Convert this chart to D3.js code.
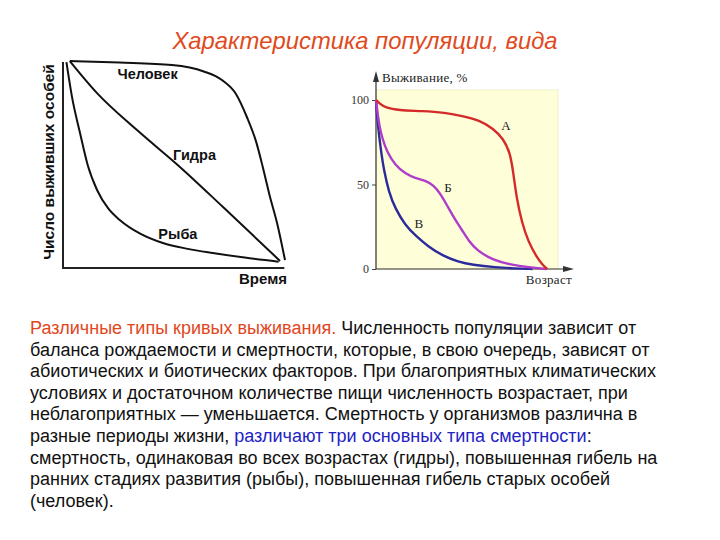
<!DOCTYPE html>
<html>
<head>
<meta charset="utf-8">
<script src="https://cdn.jsdelivr.net/npm/d3@7"></script>
<style>
  body { margin: 0; background: #fff; }
  svg { display: block; font-family: "Liberation Sans", Arial, sans-serif; }
</style>
</head>
<body>
<svg id="chart" width="720" height="540"></svg>
<script>
// ---- data: left schematic chart (time %, survivors %)
const humanCurve = [[3, 99.5], [25, 98.8], [48, 97.6], [62, 94.5], [70, 90.4], [76, 84], [81, 72.6], [85, 61], [88, 48.6], [91, 35], [94.3, 21.6], [97.8, 3.8]];
const hydraCurve = [[3, 99.5], [15, 84.1], [32.6, 66.3], [51.5, 48.6], [70.5, 29.3], [95.6, 3.4]];
const fishCurve = [[1.5, 99], [4, 82], [7.5, 64.9], [11, 49], [15, 37.5], [20, 28.5], [25, 23.1], [34, 16.5], [44, 12], [55, 9.2], [66, 7.2], [80, 5], [95, 3]];
const leftLabels = [
  { text: "Человек", x: 24, y: 91 },
  { text: "Гидра", x: 48.5, y: 52 },
  { text: "Рыба", x: 42, y: 14 }
];

// ---- data: right chart (age %, survival %)
const curveA = [[0, 100], [2, 98], [5.1, 95.4], [12.5, 93.9], [25.3, 93.5], [38.1, 92.5], [46.2, 90.8], [57.1, 88], [64.5, 83], [69.9, 77.1], [73.6, 69.2], [75.4, 57.4], [77.3, 41.6], [80.1, 27.8], [83.7, 16], [88.3, 7.1], [91.5, 2.5], [94.1, 0]];
const curveB = [[0, 100], [1, 91], [2, 84], [3.3, 78], [6, 69.2], [10.6, 61.4], [16.1, 56.4], [21.6, 53.8], [27.1, 52.3], [31.7, 49.5], [35.3, 44.6], [39, 37.7], [43, 30], [47.3, 23], [51, 16.5], [55.3, 11.1], [64.5, 5.1], [74, 2.6], [84, 1], [93.8, 0]];
const curveV = [[0, 100], [0.8, 88], [1.8, 78], [3, 68], [4.2, 59.4], [7, 45.6], [10.6, 35.7], [16.1, 25.9], [21.6, 19.9], [29, 13], [36.3, 8.1], [45.4, 4.1], [52.7, 2.5], [66, 1], [76, 0.3], [86, 0]];
const rightTicks = [0, 50, 100];
const rightLabels = [
  { text: "А", x: 71.4, y: 82.5 },
  { text: "Б", x: 39.6, y: 45.5 },
  { text: "В", x: 23.5, y: 24.5 }
];

// ---- data: text
const titleText = "Характеристика популяции, вида";
const paragraph = [
  [["Различные типы кривых выживания. ", "red"], ["Численность популяции зависит от", "black"]],
  [["баланса рождаемости и смертности, которые, в свою очередь, зависят от", "black"]],
  [["абиотических и биотических факторов. При благоприятных климатических", "black"]],
  [["условиях и достаточном количестве пищи численность возрастает, при", "black"]],
  [["неблагоприятных — уменьшается. Смертность у организмов различна в", "black"]],
  [["разные периоды жизни, ", "black"], ["различают три основных типа смертности", "blue"], [":", "black"]],
  [["смертность, одинаковая во всех возрастах (гидры), повышенная гибель на", "black"]],
  [["ранних стадиях развития (рыбы), повышенная гибель старых особей", "black"]],
  [["(человек).", "black"]]
];

const svg = d3.select('#chart');
const textColors = { red: "#e2461c", black: "#111", blue: "#2323c4" };

// title
svg.append('text')
  .attr('x', 365)
  .attr('y', 49)
  .attr('text-anchor', 'middle')
  .attr('font-size', 23.8)
  .attr('font-style', 'italic')
  .attr('fill', '#e04a1c')
  .text(titleText);

// ---------- left chart
const L = { left: 63, right: 290, top: 60, bottom: 268 };
const lx = d3.scaleLinear().domain([0, 100]).range([L.left, L.right]);
const ly = d3.scaleLinear().domain([0, 100]).range([L.bottom, L.top]);

const gL = svg.append('g').attr('class', 'left-chart');

gL.append('line')
  .attr('x1', lx(0)).attr('x2', lx(0))
  .attr('y1', ly(99)).attr('y2', ly(0))
  .attr('stroke', '#222').attr('stroke-width', 2);
gL.append('line')
  .attr('x1', lx(0) - 1).attr('x2', lx(97.5))
  .attr('y1', ly(0)).attr('y2', ly(0))
  .attr('stroke', '#222').attr('stroke-width', 2);

const lineL = d3.line()
  .x(d => lx(d[0]))
  .y(d => ly(d[1]))
  .curve(d3.curveMonotoneX);

gL.selectAll('.curve')
  .data([humanCurve, hydraCurve, fishCurve])
  .enter().append('path')
  .attr('class', 'curve')
  .attr('d', lineL)
  .attr('fill', 'none')
  .attr('stroke', '#111')
  .attr('stroke-width', 2);

gL.selectAll('.lbl')
  .data(leftLabels)
  .enter().append('text')
  .attr('class', 'lbl')
  .attr('x', d => lx(d.x))
  .attr('y', d => ly(d.y))
  .attr('font-size', 14.5)
  .attr('font-weight', 'bold')
  .attr('fill', '#111')
  .text(d => d.text);

gL.append('text')
  .attr('transform', `translate(54,${(L.top + L.bottom) / 2 - 2}) rotate(-90)`)
  .attr('text-anchor', 'middle')
  .attr('font-size', 15.5)
  .attr('font-weight', 'bold')
  .attr('fill', '#111')
  .text('Число выживших особей');

gL.append('text')
  .attr('x', 287)
  .attr('y', 284)
  .attr('text-anchor', 'end')
  .attr('font-size', 15)
  .attr('font-weight', 'bold')
  .attr('fill', '#111')
  .text('Время');

// ---------- right chart
const R = { left: 376, right: 558, top: 90, bottom: 269 };
const rx = d3.scaleLinear().domain([0, 100]).range([R.left, R.right]);
const ry = d3.scaleLinear().domain([0, 100]).range([R.bottom, 100]);

const gR = svg.append('g').attr('class', 'right-chart');

gR.append('rect')
  .attr('x', R.left).attr('y', R.top)
  .attr('width', R.right - R.left).attr('height', R.bottom - R.top)
  .attr('fill', '#fefed8')
  .attr('stroke', '#f0efc8');

const yAxisR = d3.axisLeft(ry).tickValues(rightTicks).tickSize(4).tickPadding(3);
const yAxisG = gR.append('g')
  .attr('transform', `translate(${R.left},0)`)
  .call(yAxisR);
yAxisG.select('.domain').remove();
yAxisG.selectAll('line').attr('stroke', '#444');
yAxisG.selectAll('text')
  .attr('font-family', '"Liberation Serif", "DejaVu Serif", serif')
  .attr('font-size', 12)
  .attr('fill', '#333');

// axes with arrows
const arrowColor = '#333';
gR.append('line')
  .attr('x1', R.left).attr('x2', R.left)
  .attr('y1', R.bottom).attr('y2', 76)
  .attr('stroke', arrowColor).attr('stroke-width', 1.2);
gR.append('path')
  .attr('d', d3.line()([[R.left - 3, 82], [R.left, 71], [R.left + 3, 82]]))
  .attr('fill', arrowColor);
gR.append('line')
  .attr('x1', R.left).attr('x2', 566)
  .attr('y1', R.bottom).attr('y2', R.bottom)
  .attr('stroke', arrowColor).attr('stroke-width', 1.2);
gR.append('path')
  .attr('d', d3.line()([[563, R.bottom - 3], [574, R.bottom], [563, R.bottom + 3]]))
  .attr('fill', arrowColor);

gR.append('text')
  .attr('x', 382).attr('y', 82)
  .attr('font-family', '"Liberation Serif", "DejaVu Serif", serif')
  .attr('font-size', 13)
  .attr('letter-spacing', 0.3)
  .attr('fill', '#222')
  .text('Выживание, %');

gR.append('text')
  .attr('x', 572).attr('y', 284)
  .attr('text-anchor', 'end')
  .attr('font-family', '"Liberation Serif", "DejaVu Serif", serif')
  .attr('font-size', 13)
  .attr('letter-spacing', 0.3)
  .attr('fill', '#222')
  .text('Возраст');

const lineR = d3.line()
  .x(d => rx(d[0]))
  .y(d => ry(d[1]))
  .curve(d3.curveBasis);

const seriesR = [
  { values: curveV, color: '#2b2b9c' },
  { values: curveB, color: '#b03ccc' },
  { values: curveA, color: '#d42a2a' }
];

gR.selectAll('.curve')
  .data(seriesR)
  .enter().append('path')
  .attr('class', 'curve')
  .attr('d', d => lineR(d.values))
  .attr('fill', 'none')
  .attr('stroke', d => d.color)
  .attr('stroke-width', 2.4);

gR.selectAll('.lbl')
  .data(rightLabels)
  .enter().append('text')
  .attr('class', 'lbl')
  .attr('x', d => rx(d.x))
  .attr('y', d => ry(d.y))
  .attr('text-anchor', 'middle')
  .attr('font-family', '"Liberation Serif", "DejaVu Serif", serif')
  .attr('font-size', 13)
  .attr('fill', '#222')
  .text(d => d.text);

// ---------- paragraph
const para = svg.append('text')
  .attr('font-size', 18)
  .attr('fill', textColors.black);

paragraph.forEach((line, i) => {
  const t = para.append('tspan')
    .attr('x', 30)
    .attr('y', 334 + i * 21.6);
  line.forEach((seg, j) => {
    (j === 0 ? t : para.append('tspan'))
      .attr('fill', textColors[seg[1]])
      .text(seg[0]);
  });
});
</script>
</body>
</html>
